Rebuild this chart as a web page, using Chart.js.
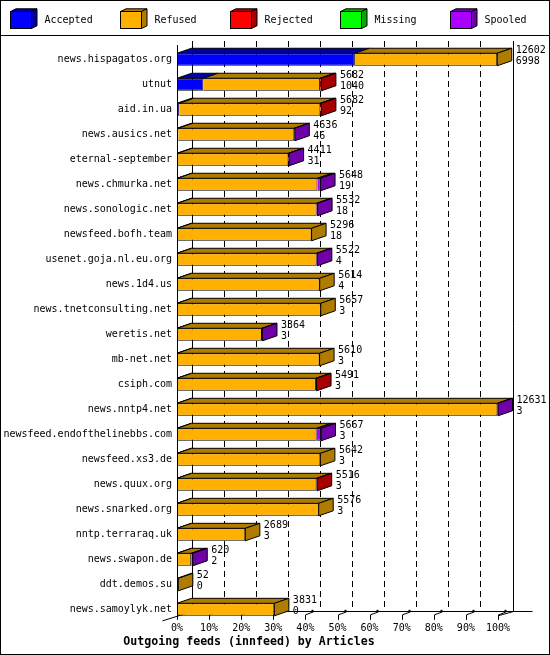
<!DOCTYPE html>
<html><head><meta charset="utf-8">
<style>html,body{margin:0;padding:0;background:#fff}canvas{display:block}</style>
<script src="https://cdn.jsdelivr.net/npm/chart.js@4.4.0/dist/chart.umd.min.js"></script>
</head><body>
<canvas id="c" width="550" height="655"></canvas>
<script>
const hosts = ['news.hispagatos.org','utnut','aid.in.ua','news.ausics.net','eternal-september','news.chmurka.net','news.sonologic.net','newsfeed.bofh.team','usenet.goja.nl.eu.org','news.1d4.us','news.tnetconsulting.net','weretis.net','mb-net.net','csiph.com','news.nntp4.net','newsfeed.endofthelinebbs.com','newsfeed.xs3.de','news.quux.org','news.snarked.org','nntp.terraraq.uk','news.swapon.de','ddt.demos.su','news.samoylyk.net'];
const accepted = [6998,1040,92,46,31,19,18,18,4,4,3,3,3,3,3,3,3,3,3,3,2,0,0];
const refused  = [5604,4592,5550,4570,4355,5509,5479,5278,5493,5610,5654,3341,5607,5463,12608,5494,5639,5488,5573,2686,558,52,3831];
const rejected = [0,50,40,0,0,0,0,0,0,0,0,0,0,25,0,0,0,25,0,0,0,0,0];
const missing  = [0,0,0,0,0,0,0,0,0,0,0,0,0,0,0,0,0,0,0,0,0,0,0];
const spooled  = [0,0,0,20,25,120,35,0,25,0,0,20,0,0,20,170,0,0,0,0,60,0,0];
const seriesNames = ['Accepted','Refused','Rejected','Missing','Spooled'];
const tickPercents = [0,10,20,30,40,50,60,70,80,90,100];
const titleText = 'Outgoing feeds (innfeed) by Articles';

const series = [accepted, refused, rejected, missing, spooled];
const colors = ['#0000ff','#ffb000','#ff0000','#00ff00','#aa00ff'];
const darks  = ['#0000a8','#b07c00','#a80000','#00a800','#7000a8'];
const FONT = '"DejaVu Sans Mono", monospace';
const totals = hosts.map((h, i) => series.reduce((s, d) => s + d[i], 0));
const maxTotal = Math.max(...totals);
const DX = 14.5, DY = -5;

const threeD = {
  id: 'threeD',
  beforeDatasetsDraw(chart) {
    const ctx = chart.ctx, xs = chart.scales.x, ys = chart.scales.y, ca = chart.chartArea;
    const m0 = chart.getDatasetMeta(0).data;
    const last = m0[m0.length - 1];
    const floorF = last.y + last.height / 2;
    const floorB = floorF + DY;
    const x0 = xs.getPixelForValue(0), x1 = xs.getPixelForValue(maxTotal);
    const top = ca.top + DY - 1;
    ctx.save();
    ctx.strokeStyle = '#000'; ctx.lineWidth = 1;
    // dashed gridlines on back wall
    ctx.setLineDash([6, 4]);
    tickPercents.slice(1, -1).forEach(p => {
      const x = Math.round(xs.getPixelForValue(p / 100 * maxTotal) + DX) + 0.5;
      ctx.beginPath(); ctx.moveTo(x, top); ctx.lineTo(x, floorB); ctx.stroke();
    });
    ctx.setLineDash([]);
    const xb0 = Math.round(x0 + DX) + 0.5, xb1 = Math.round(x1 + DX) + 0.5;
    const fb = Math.round(floorB) + 0.5;
    ctx.beginPath();
    ctx.moveTo(xb0, top); ctx.lineTo(xb0, fb);
    ctx.moveTo(xb1, top); ctx.lineTo(xb1, fb);
    ctx.moveTo(xb0, fb); ctx.lineTo(xb1 + 19, fb);
    ctx.moveTo(xb0, fb); ctx.lineTo(x0 - DX, floorF - DY);
    ctx.moveTo(xb1, fb); ctx.lineTo(x1, floorF);
    ctx.stroke();
    // ticks
    tickPercents.forEach(p => {
      const x = Math.round(xs.getPixelForValue(p / 100 * maxTotal)) + 0.5;
      ctx.beginPath();
      ctx.moveTo(x, floorF + 4); ctx.lineTo(x, floorF - 1); ctx.lineTo(x + 8, floorF - 4);
      ctx.stroke();
      ctx.fillStyle = '#000';
      ctx.fillRect(x + 6, floorF - 6, 2, 2);
    });
    ctx.restore();
  },
  afterDatasetsDraw(chart) {
    const ctx = chart.ctx, xs = chart.scales.x, ca = chart.chartArea;
    const metas = series.map((s, k) => chart.getDatasetMeta(k).data);
    ctx.save();
    ctx.strokeStyle = '#000'; ctx.lineWidth = 1;
    hosts.forEach((h, i) => {
      let lastK = -1;
      series.forEach((d, k) => {
        if (d[i] <= 0) return;
        lastK = k;
        const el = metas[k][i];
        const t = el.y - el.height / 2;
        const a = Math.min(el.base, el.x), b = Math.max(el.base, el.x);
        ctx.fillStyle = darks[k];
        ctx.beginPath();
        ctx.moveTo(a, t); ctx.lineTo(b, t); ctx.lineTo(b + DX, t + DY); ctx.lineTo(a + DX, t + DY); ctx.closePath();
        ctx.fill(); ctx.stroke();
      });
      if (lastK >= 0) {
        const el = metas[lastK][i];
        const t = el.y - el.height / 2, bt = el.y + el.height / 2;
        const b = Math.max(el.base, el.x);
        ctx.fillStyle = darks[lastK];
        ctx.beginPath();
        ctx.moveTo(b, t); ctx.lineTo(b + DX, t + DY); ctx.lineTo(b + DX, bt + DY); ctx.lineTo(b, bt); ctx.closePath();
        ctx.fill(); ctx.stroke();
      }
      // value labels
      const el0 = metas[0][i];
      const xe = xs.getPixelForValue(totals[i]) + DX + 4;
      ctx.fillStyle = '#000';
      ctx.font = '10px ' + FONT;
      ctx.textAlign = 'left'; ctx.textBaseline = 'middle';
      ctx.fillText(String(totals[i]), xe, el0.y - 9.5);
      ctx.fillText(String(accepted[i]), xe, el0.y + 1.8);
    });
    // front-left axis line
    const m0 = metas[0];
    const last = m0[m0.length - 1];
    const floorF = last.y + last.height / 2;
    const x0 = Math.round(xs.getPixelForValue(0)) + 0.5;
    ctx.beginPath(); ctx.moveTo(x0, ca.top - 2); ctx.lineTo(x0, floorF); ctx.stroke();
    ctx.restore();
  },
  afterDraw(chart) {
    const ctx = chart.ctx;
    ctx.save();
    ctx.strokeStyle = '#000'; ctx.lineWidth = 1;
    ctx.strokeRect(0.5, 0.5, 549, 654);
    ctx.beginPath(); ctx.moveTo(0, 35.5); ctx.lineTo(550, 35.5); ctx.stroke();
    chart.data.datasets.forEach((ds, k) => {
      const l = 10.5 + k * 110, t = 11.5, w = 21, hh = 17, dx = 5.5, dy = -2.7;
      ctx.fillStyle = colors[k];
      ctx.fillRect(l, t, w, hh); ctx.strokeRect(l, t, w, hh);
      ctx.fillStyle = darks[k];
      ctx.beginPath();
      ctx.moveTo(l, t); ctx.lineTo(l + dx, t + dy); ctx.lineTo(l + w + dx, t + dy); ctx.lineTo(l + w, t); ctx.closePath();
      ctx.fill(); ctx.stroke();
      ctx.beginPath();
      ctx.moveTo(l + w, t); ctx.lineTo(l + w + dx, t + dy); ctx.lineTo(l + w + dx, t + hh + dy); ctx.lineTo(l + w, t + hh); ctx.closePath();
      ctx.fill(); ctx.stroke();
      ctx.fillStyle = '#000';
      ctx.font = '10px ' + FONT;
      ctx.textAlign = 'left'; ctx.textBaseline = 'middle';
      ctx.fillText(ds.label, 44.5 + k * 110, 20.5);
    });
    ctx.restore();
  }
};

new Chart(document.getElementById('c'), {
  type: 'bar',
  data: {
    labels: hosts,
    datasets: series.map((d, k) => ({
      label: seriesNames[k], data: d,
      backgroundColor: colors[k], borderColor: '#000', borderWidth: 1, borderSkipped: 'start',
      categoryPercentage: 1, barPercentage: 0.5
    }))
  },
  options: {
    indexAxis: 'y', responsive: false, devicePixelRatio: 1, animation: false,
    layout: { padding: { top: 47, right: 52, left: 0, bottom: 0 } },
    plugins: {
      legend: { display: false }, tooltip: { enabled: false },
      title: { display: true, position: 'bottom', text: titleText, color: '#000',
        font: { family: FONT, size: 11.6, weight: 'bold' }, padding: { top: 0, bottom: 6 } }
    },
    scales: {
      x: {
        stacked: true, min: 0, max: maxTotal,
        grid: { display: false, drawTicks: false }, border: { display: false },
        ticks: { padding: 0, color: '#000', font: { family: FONT, size: 10 }, maxRotation: 0, autoSkip: false,
          callback: (v) => Math.round(v / maxTotal * 100) + '%' },
        afterBuildTicks: (s) => { s.ticks = tickPercents.map(p => ({ value: p / 100 * maxTotal })); },
        afterFit: (s) => { s.height = 13; }
      },
      y: {
        stacked: true,
        grid: { display: false, drawTicks: false }, border: { display: false },
        ticks: { padding: 5, color: '#000', font: { family: FONT, size: 10 }, autoSkip: false },
        afterFit: (s) => { s.width = 177; }
      }
    }
  },
  plugins: [threeD]
});
</script>
</body></html>
